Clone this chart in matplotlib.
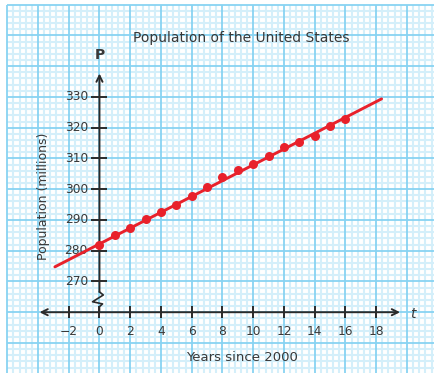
import numpy as np
import matplotlib
matplotlib.use("Agg")
import matplotlib.pyplot as plt

# Years since 2000 and U.S. population (millions)
years = [0, 1, 2, 3, 4, 5, 6, 7, 8, 9, 10, 11, 12, 13, 14, 15, 16]
population = [282.0, 285.1, 287.5, 290.2, 292.5, 295.0, 297.8, 300.8, 304.0,
              306.3, 308.2, 310.8, 313.6, 315.4, 317.4, 320.4, 322.9]

# Line of fit P = slope * t + intercept, drawn over t_fit range
fit_slope = 2.57
fit_intercept = 282.2
fit_t_range = [-2.9, 18.35]

x_ticks = [-2, 0, 2, 4, 6, 8, 10, 12, 14, 16, 18]
y_ticks = [270, 280, 290, 300, 310, 320, 330]

title = "Population of the United States"
x_label = "Years since 2000"
y_label = "Population (millions)"

RED = "#e8212b"
AXIS = "#2b2b2b"
TEXT = "#383838"
MAJOR = "#88d3f2"
MINOR = "#d4effa"

fig = plt.figure(figsize=(4.34, 3.73), dpi=100)
ax = fig.add_axes([0, 0, 1, 1])
x_lo, x_hi = -6.47, 21.76
y_lo, y_hi = 240.24, 361.5
ax.set_xlim(x_lo, x_hi)
ax.set_ylim(y_lo, y_hi)
ax.axis("off")

# graph paper: minor lines every 0.4 yr / 2 M, major every 2 yr / 10 M
grid_left, grid_top = -6.0, 360.0
minor_x = np.arange(grid_left, x_hi + 0.01, 0.4)
minor_y = np.arange(grid_top, y_lo - 0.01, -2.0)
for i, xv in enumerate(minor_x):
    if i % 5:
        ax.vlines(xv, y_lo, grid_top, color=MINOR, lw=1.5, zorder=1)
for i, yv in enumerate(minor_y):
    if i % 5:
        ax.hlines(yv, grid_left, x_hi, color=MINOR, lw=1.5, zorder=1)
for xv in minor_x[::5]:
    ax.vlines(xv, y_lo, grid_top, color=MAJOR, lw=1.3, zorder=2)
for yv in minor_y[::5]:
    ax.hlines(yv, grid_left, x_hi, color=MAJOR, lw=1.3, zorder=2)

# horizontal axis (drawn at P = 260 because of the axis break)
x_axis_p = 260
ax.annotate("", xy=(19.55, x_axis_p), xytext=(-3.9, x_axis_p),
            arrowprops=dict(arrowstyle="<->", color=AXIS, lw=1.4,
                            mutation_scale=11, shrinkA=0, shrinkB=0),
            zorder=5)
ax.plot(x_ticks, [x_axis_p] * len(x_ticks), linestyle="none", marker="|",
        markersize=9, markeredgewidth=1.4, color=AXIS, zorder=5)
for t in x_ticks:
    ax.text(t, x_axis_p - 6.2, str(t).replace("-", "\u2212"), ha="center",
            va="center", fontsize=8.8, color=TEXT, zorder=6)
ax.text(20.4, x_axis_p - 0.6, "t", ha="center", va="center", fontsize=10,
        fontstyle="italic", color=TEXT, zorder=6)

# vertical axis with a zigzag break between 260 and 270
ax.annotate("", xy=(0, 337.6), xytext=(0, 266.6),
            arrowprops=dict(arrowstyle="->", color=AXIS, lw=1.4,
                            mutation_scale=11, shrinkA=0, shrinkB=0),
            zorder=5)
ax.plot([0, 0.25, -0.45, 0.2, 0, 0], [266.6, 265.6, 263.4, 262.7, 261.8, 260],
        color=AXIS, lw=1.2, zorder=5)
ax.plot([0] * len(y_ticks), y_ticks, linestyle="none", marker="_",
        markersize=11, markeredgewidth=1.4, color=AXIS, zorder=5)
for p in y_ticks:
    ax.text(-0.75, p, str(p), ha="right", va="center", fontsize=8.8,
            color=TEXT, zorder=6)
ax.text(0.05, 343.5, "P", ha="center", va="center", fontsize=10,
        fontweight="bold", color=TEXT, zorder=6)

# line of fit and data points
t_fit = np.array(fit_t_range)
ax.plot(t_fit, fit_slope * t_fit + fit_intercept, color=RED, lw=2.1,
        solid_capstyle="round", zorder=7)
ax.plot(years, population, linestyle="none", marker="o", markersize=6.5,
        color=RED, markeredgewidth=0, zorder=8)

ax.text(9.2, 349.2, title, ha="center", va="center", fontsize=10,
        color=TEXT, zorder=6)
ax.text(9.3, 245.3, x_label, ha="center", va="center", fontsize=9.5,
        color=TEXT, zorder=6)
ax.text(-3.67, 297.8, y_label, ha="center", va="center", fontsize=9,
        rotation=90, color=TEXT, zorder=6)

fig.savefig("out.png", dpi=100, facecolor="white")
